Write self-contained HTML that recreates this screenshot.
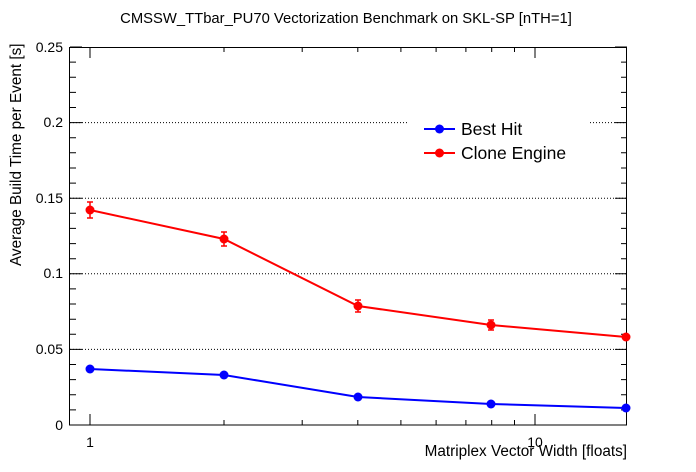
<!DOCTYPE html>
<html><head><style>body{margin:0;background:#fff}svg{display:block}</style></head><body>
<svg width="696" height="472" xmlns="http://www.w3.org/2000/svg" font-family="Liberation Sans, sans-serif">
<rect width="696" height="472" fill="#fff"/>
<text x="346" y="23" font-size="14.8" text-anchor="middle">CMSSW_TTbar_PU70 Vectorization Benchmark on SKL-SP [nTH=1]</text>
<g stroke="#000" stroke-width="1" stroke-dasharray="1,2">
<line x1="70" y1="349.4" x2="627" y2="349.4"/>
<line x1="70" y1="273.8" x2="627" y2="273.8"/>
<line x1="70" y1="198.2" x2="627" y2="198.2"/>
<line x1="70" y1="122.6" x2="408" y2="122.6"/>
<line x1="590" y1="122.6" x2="627" y2="122.6"/>
</g>
<rect x="69.5" y="47.5" width="557" height="377.5" fill="none" stroke="#000" stroke-width="1"/>
<g stroke="#000" stroke-width="1">
<path d="M70 425h12M70 349.4h12M70 273.8h12M70 198.2h12M70 122.6h12M70 47h12"/>
<path d="M627 425h-12M627 349.4h-12M627 273.8h-12M627 198.2h-12M627 122.6h-12M627 47h-12"/>
<path d="M70 409.9h6M70 394.8h6M70 379.6h6M70 364.5h6M70 334.3h6M70 319.2h6M70 304h6M70 288.9h6M70 258.7h6M70 243.6h6M70 228.4h6M70 213.3h6M70 183.1h6M70 168h6M70 152.8h6M70 137.7h6M70 107.5h6M70 92.4h6M70 77.2h6M70 62.1h6"/>
<path d="M627 409.9h-6M627 394.8h-6M627 379.6h-6M627 364.5h-6M627 334.3h-6M627 319.2h-6M627 304h-6M627 288.9h-6M627 258.7h-6M627 243.6h-6M627 228.4h-6M627 213.3h-6M627 183.1h-6M627 168h-6M627 152.8h-6M627 137.7h-6M627 107.5h-6M627 92.4h-6M627 77.2h-6M627 62.1h-6"/>
<path d="M90 425v-11M535 425v-11M90 47v11M535 47v11"/>
<path d="M224 425v-5M302.2 425v-5M357.8 425v-5M400.9 425v-5M436.1 425v-5M465.9 425v-5M491.7 425v-5M514.5 425v-5M224 47v5M302.2 47v5M357.8 47v5M400.9 47v5M436.1 47v5M465.9 47v5M491.7 47v5M514.5 47v5"/>
</g>
<g font-size="14" text-anchor="end">
<text x="63" y="430">0</text><text x="63" y="354">0.05</text><text x="63" y="278">0.1</text><text x="63" y="203">0.15</text><text x="63" y="127">0.2</text><text x="63" y="52">0.25</text>
</g>
<text x="90" y="447" font-size="14" text-anchor="middle">1</text>
<text x="535" y="447" font-size="14" text-anchor="middle">10</text>
<text x="627" y="456" font-size="15.3" text-anchor="end">Matriplex Vector Width [floats]</text>
<text transform="translate(21,266) rotate(-90)" font-size="15.3" x="0" y="0">Average Build Time per Event [s]</text>
<g stroke="#f00" stroke-width="2" fill="none"><polyline points="90,210 224,239 358,306 491,325 626,337"/></g>
<g stroke="#f00" stroke-width="1.5">
<path d="M90 202v16M87 202h6M87 218h6M224 232v14M221 232h6M221 246h6M358 300v12M355 300h6M355 312h6M491 320v10M488 320h6M488 330h6M626 333v8"/>
</g>
<g fill="#f00"><circle cx="90" cy="210" r="4.5"/><circle cx="224" cy="239" r="4.5"/><circle cx="358" cy="306" r="4.5"/><circle cx="491" cy="325" r="4.5"/><circle cx="626" cy="337" r="4.5"/></g>
<g stroke="#00f" stroke-width="2" fill="none"><polyline points="90,369 224,375 358,397 491,404 626,408"/></g>
<g fill="#00f"><circle cx="90" cy="369" r="4.5"/><circle cx="224" cy="375" r="4.5"/><circle cx="358" cy="397" r="4.5"/><circle cx="491" cy="404" r="4.5"/><circle cx="626" cy="408" r="4.5"/></g>
<line x1="424" y1="129" x2="455" y2="129" stroke="#00f" stroke-width="2"/><circle cx="439.5" cy="129" r="4.5" fill="#00f"/>
<line x1="424" y1="153" x2="455" y2="153" stroke="#f00" stroke-width="2"/><circle cx="439.5" cy="153" r="4.5" fill="#f00"/>
<text x="461" y="135" font-size="17.5">Best Hit</text>
<text x="461" y="159" font-size="17.5">Clone Engine</text>
</svg>
</body></html>
